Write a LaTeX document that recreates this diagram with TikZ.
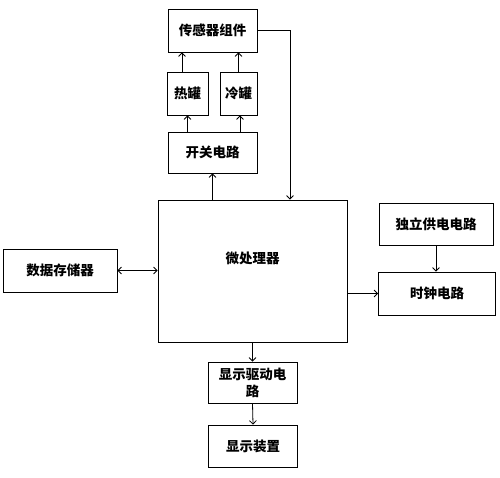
\documentclass[tikz,border=0pt]{standalone}
\usepackage{fontspec}
\newfontfamily\cjk{Noto Sans CJK SC}
\usepackage{tikz}
\usetikzlibrary{positioning,arrows.meta}

\begin{document}
\begin{tikzpicture}[x=1pt, y=-1pt, line width=0.8pt,
    font=\cjk\bfseries\fontsize{13.5}{17}\selectfont,
    blk/.style={draw, inner sep=0pt, align=center},
    arr/.style={-{Straight Barb[length=3.5pt,width=7pt]}}]
    \useasboundingbox (0,0) rectangle (500,478);
    % top chain
    \node[blk, minimum width=89pt, minimum height=43pt] (sensor) at (212.5,30.5) {传感器组件};
    \node[blk, minimum width=41pt, minimum height=43pt] (hot)    at (187.5,93.5) {热罐};
    \node[blk, minimum width=37pt, minimum height=43pt] (cold)   at (238.5,93.5) {冷罐};
    \node[blk, minimum width=89pt, minimum height=41pt] (switch) at (212.5,152.5) {开关电路};
    % centre
    \node[blk, minimum width=189pt, minimum height=142pt] (mcu) at (252.5,271) {微处理器\\[10pt]};
    \node[blk, minimum width=114pt, minimum height=43pt] (mem)   at (60,270.5) {数据存储器};
    \node[blk, minimum width=114pt, minimum height=42pt] (power) at (436,224) {独立供电电路};
    \node[blk, minimum width=117pt, minimum height=43pt] (clock) at (437,293.5) {时钟电路};
    % bottom chain
    \node[blk, minimum width=89pt, minimum height=41pt] (drv)  at (252.5,382.5) {显示驱动电\\路};
    \node[blk, minimum width=89pt, minimum height=42pt] (disp) at (253,446) {显示装置};

    \draw[arr] ([xshift=-5.5pt]hot.north) -- ([xshift=-5.5pt]hot.north |- sensor.south);
    \draw[arr] (cold.north) -- (cold.north |- sensor.south);
    \draw[arr] (hot.south |- switch.north) -- (hot.south);
    \draw[arr] ([xshift=1.5pt]cold.south |- switch.north) -- ([xshift=1.5pt]cold.south);
    \draw[arr] (switch.south |- mcu.north) -- (switch.south);
    \draw[arr] (sensor.east) -| ([xshift=37.5pt]mcu.north);
    \draw[{Straight Barb[length=3.5pt,width=7pt]}-{Straight Barb[length=3.5pt,width=7pt]}] (mem.east) -- (mcu.west |- mem.east);
    \draw[arr] (mcu.east |- clock.west) -- (clock.west);
    \draw[arr] (power.south) -- (power.south |- clock.north);
    \draw[arr] (drv.north |- mcu.south) -- (drv.north);
    \draw[arr] (drv.south) -- (disp.north);
\end{tikzpicture}
\end{document}
